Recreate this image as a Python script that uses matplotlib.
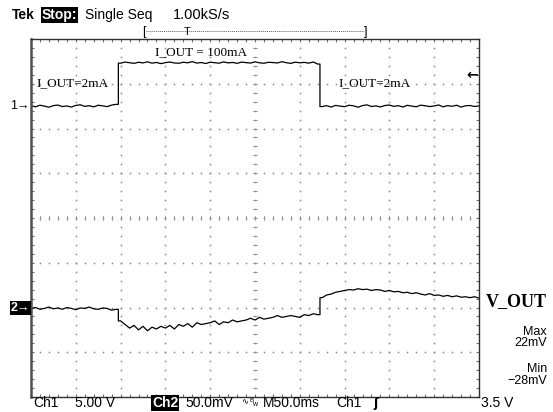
"""
Tek scope capture: load step on I_OUT (ch1) and V_OUT response (ch2).
"""

import numpy as np
import matplotlib
matplotlib.use('Agg')
import matplotlib.pyplot as plt
from matplotlib.lines import Line2D

W, H = 553, 412

# sample times, ms (1 point every 5 ms across the 500 ms record)
t_ms = np.arange(-250, 251, 5)
edges_ms = [-152.5, 72.5]

# ch1, volts (I_OUT sense)
ch1_v = [0.05, -0.08, 0.10, 0.00, -0.12, 0.06, 0.12, -0.05, 0.02, -0.10,
         0.08, 0.15, -0.03, 0.05, -0.08, 0.10, 0.03, -0.06, 0.12, 0.20,
         4.80, 4.92, 4.85, 4.78, 4.90, 4.83, 4.95, 4.80, 4.88, 4.75,
         4.86, 4.93, 4.82, 4.79, 4.90, 4.84, 4.97, 4.81, 4.87, 4.76,
         4.91, 4.85, 4.80, 4.94, 4.83, 4.88, 4.78, 4.92, 4.86, 4.81,
         4.95, 4.84, 4.79, 4.90, 4.87, 4.82, 4.96, 4.85, 4.78, 4.91,
         4.84, 4.89, 4.80, 4.93, 4.70,
         -0.05, 0.05, -0.10, 0.08, 0.00, -0.06, 0.10, 0.03, -0.12, 0.06,
         0.14, -0.04, 0.02, -0.09, 0.07, 0.12, -0.03, 0.05, -0.10, 0.09,
         0.00, -0.07, 0.11, 0.04, -0.05, 0.02, 0.13, -0.08, 0.06, -0.02,
         0.10, -0.11, 0.04, 0.07, -0.04, 0.02]

# ch2, millivolts (V_OUT, AC)
ch2_mv = [-1.0, 0.0, -2.0, -1.0, 0.5, -1.5, -0.5, -2.0, 0.0, -1.0,
          -2.5, -0.5, -1.0, 0.5, -1.5, -2.0, -0.5, -1.0, -3.0, -2.0,
          -15, -19, -23, -20, -25, -21, -26, -22, -24, -21,
          -23, -20, -24, -19, -21, -18, -22, -17, -19, -18,
          -17, -15, -19, -16, -17, -14, -16, -15, -14, -12,
          -14, -11, -13, -12, -11, -9, -11, -10, -9, -10,
          -11, -8, -9, -7, -8,
          11, 14, 15, 17, 18, 19, 20, 19.5, 21, 20,
          20.5, 19, 20, 19.5, 18, 19, 17.5, 18, 16.5, 17,
          15.5, 16.5, 15, 14, 15.5, 13.5, 14, 12.5, 13.5, 12,
          13, 11.5, 12, 11, 12, 10.5]

ch1_pos, ch1_scale = 2.5, 5.0     # div, V/div
ch2_pos, ch2_scale = -2.0, 50.0   # div, mV/div
t_scale = 50.0                    # ms/div


def with_edges(t, v, edges):
    """ Insert vertical steps at the edge times. """
    t = list(t)
    v = list(v)
    for e in sorted(edges, reverse=True):
        i = int(np.searchsorted(t, e))
        t[i:i] = [e, e]
        v[i:i] = [v[i - 1], v[i]]
    return np.array(t), np.array(v)


def px(x, y):
    return x / W, 1 - y / H


fig = plt.figure(figsize=(W / 100, H / 100), dpi=100)
fig.patch.set_facecolor('white')
ax = fig.add_axes([31 / W, (H - 397) / H, 448 / W, 358 / H])
ax.set_xlim(-5, 5)
ax.set_ylim(-4, 4)

# graticule dots
minor_x = np.arange(-5, 5.01, 0.2)
minor_y = np.arange(-4, 4.01, 0.2)
dot = dict(ls='none', marker='s', ms=1.1, color='#8a8a8a', mew=0)
for gx in range(-4, 5):
    ax.plot(np.full_like(minor_y, gx), minor_y, **dot)
for gy in range(-3, 4):
    ax.plot(minor_x, np.full_like(minor_x, gy), **dot)
# centre cross ticks
for yy in minor_y:
    ax.plot([-0.035, 0.035], [yy, yy], color='#909090', lw=0.6)
for xx in minor_x:
    ax.plot([xx, xx], [-0.04, 0.04], color='#909090', lw=0.6)

ax.set_xticks(range(-5, 6))
ax.set_yticks(range(-4, 5))
ax.set_xticks(minor_x, minor=True)
ax.set_yticks(minor_y, minor=True)
ax.tick_params(which='both', direction='in', length=2.5, width=0.8,
               color='#707070', top=True, right=True,
               labelbottom=False, labelleft=False)
for s in ax.spines.values():
    s.set_color('#303030')
    s.set_linewidth(1.0)
ax.spines['left'].set_linewidth(1.8)
ax.spines['left'].set_color('#505050')

# traces
t1, v1 = with_edges(t_ms, ch1_v, edges_ms)
t2, v2 = with_edges(t_ms, ch2_mv, edges_ms)
ax.plot(t1 / t_scale, ch1_pos + v1 / ch1_scale, color='black', lw=0.9)
ax.plot(t2 / t_scale, ch2_pos + v2 / ch2_scale, color='black', lw=0.9)

# annotations on screen
serif = 'Liberation Serif'
sans = 'Liberation Sans'
fig.text(*px(36, 83), 'I_OUT=2mA', family=serif, fontsize=9.5, va='center')
fig.text(*px(155, 52), 'I_OUT = 100mA', family=serif, fontsize=9.5, va='center')
fig.text(*px(338, 83), 'I_OUT=2mA', family=serif, fontsize=9.5, va='center')

# header
fig.text(*px(12, 15), 'Tek', family=sans, fontsize=10, weight='bold', va='center')
fig.text(*px(42, 15), 'Stop:', family=sans, fontsize=10, weight='bold', va='center',
         color='white', bbox=dict(facecolor='black', edgecolor='none', pad=0.6))
fig.text(*px(85, 15), 'Single Seq', family=sans, fontsize=10, va='center')
fig.text(*px(173, 15), '1.00kS/s', family=sans, fontsize=10.5, va='center')
fig.add_artist(Line2D([146 / W, 364 / W], [1 - 31 / H] * 2, color='#606060',
                      lw=0.7, ls=(0, (1, 1))))
fig.text(*px(142, 32), '[', family=sans, fontsize=9, va='center')
fig.text(*px(367, 32), ']', family=sans, fontsize=9, va='center', ha='right')
fig.text(*px(187, 32), 'T', family=sans, fontsize=8, va='center', ha='center')

# channel markers
fig.text(*px(30, 106), '1\u2192', family=sans, fontsize=9, va='center', ha='right')
fig.text(*px(30, 308), '2\u2192', family=sans, fontsize=9, va='center', ha='right',
         weight='bold', color='white',
         bbox=dict(facecolor='black', edgecolor='none', pad=0.8))
fig.text(*px(478, 75), '\u2190', family='DejaVu Sans', fontsize=10, va='center',
         ha='right', weight='bold')

# right side readouts
fig.text(*px(486, 302), 'V_OUT', family=serif, fontsize=13, weight='bold', va='center')
fig.text(*px(547, 332), 'Max', family=sans, fontsize=9, va='center', ha='right')
fig.text(*px(547, 343), '22mV', family=sans, fontsize=9, va='center', ha='right')
fig.text(*px(547, 369), 'Min', family=sans, fontsize=9, va='center', ha='right')
fig.text(*px(547, 381), '\u221228mV', family=sans, fontsize=9, va='center', ha='right')

# footer
fy = 403
fig.text(*px(33, fy), 'Ch1', family=sans, fontsize=10, va='center')
fig.text(*px(75, fy), '5.00 V', family=sans, fontsize=10, va='center')
fig.text(*px(152, fy), 'Ch2', family=sans, fontsize=10, weight='bold', va='center',
         color='white', bbox=dict(facecolor='black', edgecolor='none', pad=0.6))
fig.text(*px(185, fy), '50.0mV', family=sans, fontsize=10, va='center')
fig.text(*px(241, fy - 1), '\u223f', family='DejaVu Sans', fontsize=6, va='center')
fig.text(*px(250, fy - 3), 'B', family=sans, fontsize=4.5, va='center')
fig.text(*px(252, fy + 2), 'w', family=sans, fontsize=5, va='center')
fig.text(*px(263, fy), 'M50.0ms', family=sans, fontsize=10, va='center')
fig.text(*px(336, fy), 'Ch1', family=sans, fontsize=10, va='center')
fig.text(*px(373, fy), '\u0283', family='DejaVu Sans', fontsize=9, va='center',
         weight='bold')
fig.text(*px(513, fy), '3.5 V', family=sans, fontsize=10, va='center', ha='right')

fig.savefig('out.png', dpi=100)
